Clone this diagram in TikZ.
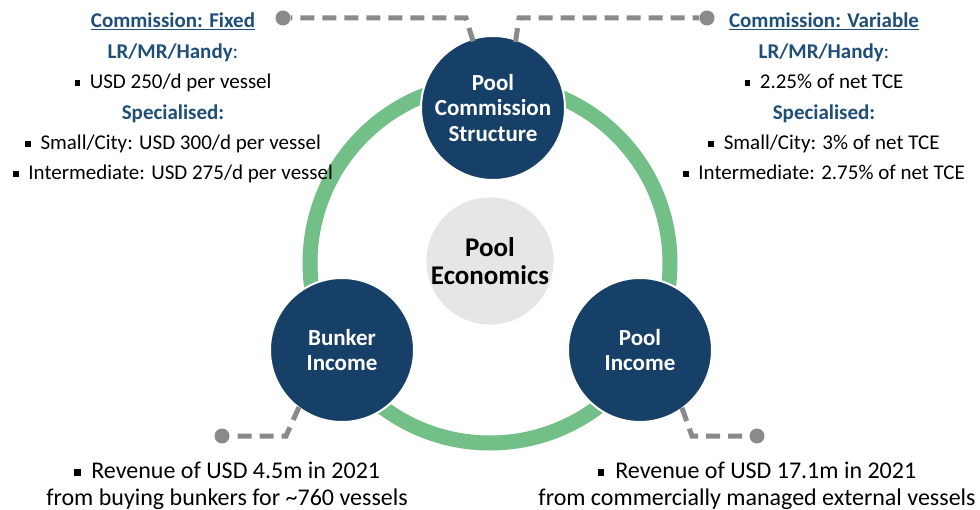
\documentclass[tikz,border=0pt]{standalone}
\usepackage{fontspec}
\setmainfont{Carlito}
\usepackage{xcolor}
\usetikzlibrary{positioning}

\definecolor{poolblue}{RGB}{23,64,105}
\definecolor{headblue}{RGB}{31,78,121}
\definecolor{ringgreen}{RGB}{114,191,135}
\definecolor{hubgrey}{RGB}{230,230,230}
\definecolor{leadgrey}{RGB}{138,138,138}

\newcommand{\sqbul}{\raisebox{0.28ex}{\rule{0.28em}{0.28em}}\hspace{0.45em}}
\newcommand{\headtxt}[1]{\textcolor{headblue}{\textbf{#1}}}

\tikzset{
  bigcirc/.style={circle, fill=poolblue, draw=white, line width=2pt, minimum size=144pt,
    inner sep=0pt, align=center, text=white, font=\fontsize{23}{25.5}\selectfont\bfseries},
  hubcirc/.style={circle, fill=hubgrey, minimum size=126pt, inner sep=0pt, align=center,
    font=\fontsize{27}{28}\selectfont\bfseries},
  infotxt/.style={align=center, inner sep=0pt, font=\fontsize{21}{30.4}\selectfont},
  revtxt/.style={align=center, inner sep=0pt, font=\fontsize{24}{26.5}\selectfont},
  leader/.style={leadgrey, line width=5pt, dash pattern=on 14pt off 8pt},
  leaddot/.style={circle, fill=leadgrey, minimum size=15pt, inner sep=0pt}
}

\begin{document}
\begin{tikzpicture}[x=1pt,y=-1pt]
\useasboundingbox (0,0) rectangle (980,510);

% ring behind the circles
\draw[ringgreen, line width=15pt] (490,263) circle (180);

\node[hubcirc] (econ) at (490,261) {Pool\\Economics};
\node[bigcirc] (comm) at (493,108) {Pool\\Commission\\Structure};
\node[bigcirc] (bunker) at (342,350) {Bunker\\Income};
\node[bigcirc] (income) at (640,350) {Pool\\Income};

% fixed commission
\node[infotxt, anchor=north] (fixed) at (173,13)
  {\headtxt{\underline{Commission: Fixed}}\\
   \headtxt{LR/MR/Handy}\textcolor{headblue}{:}\\
   \sqbul USD 250/d per vessel\\
   \headtxt{Specialised:}\\
   \sqbul Small/City: USD 300/d per vessel\\
   \sqbul Intermediate: USD 275/d per vessel};

% variable commission
\node[infotxt, anchor=north] (variable) at (824,13)
  {\headtxt{\underline{Commission: Variable}}\\
   \headtxt{LR/MR/Handy}\textcolor{headblue}{:}\\
   \sqbul 2.25\% of net TCE\\
   \headtxt{Specialised:}\\
   \sqbul Small/City: 3\% of net TCE\\
   \sqbul Intermediate: 2.75\% of net TCE};

\node[revtxt, anchor=north] (bunkerrev) at (227,462)
  {\sqbul Revenue of USD 4.5m in 2021\\from buying bunkers for \textasciitilde760 vessels};
\node[revtxt, anchor=north] (poolrev) at (757,462)
  {\sqbul Revenue of USD 17.1m in 2021\\from commercially managed external vessels};

% leader lines
\node[leaddot] (dotfix) at (283,18) {};
\node[leaddot] (dotvar) at (707,18) {};
\node[leaddot] (dotbunk) at (222,436) {};
\node[leaddot] (dotpool) at (757,436) {};
\coordinate (bendfix) at (466,18);
\coordinate (bendvar) at (519,18);
\coordinate (bendbunk) at (286,436);
\coordinate (bendpool) at (692,436);

\draw[leader] ([shift={(105:4)}]comm.105) -- (bendfix) -- (dotfix);
\draw[leader] ([shift={(73:4)}]comm.73) -- (bendvar) -- (dotvar);
\draw[leader] ([shift={(-124:4)}]bunker.-124) -- (bendbunk) -- (dotbunk);
\draw[leader] ([shift={(-57:4)}]income.-57) -- (bendpool) -- (dotpool);
\end{tikzpicture}
\end{document}
